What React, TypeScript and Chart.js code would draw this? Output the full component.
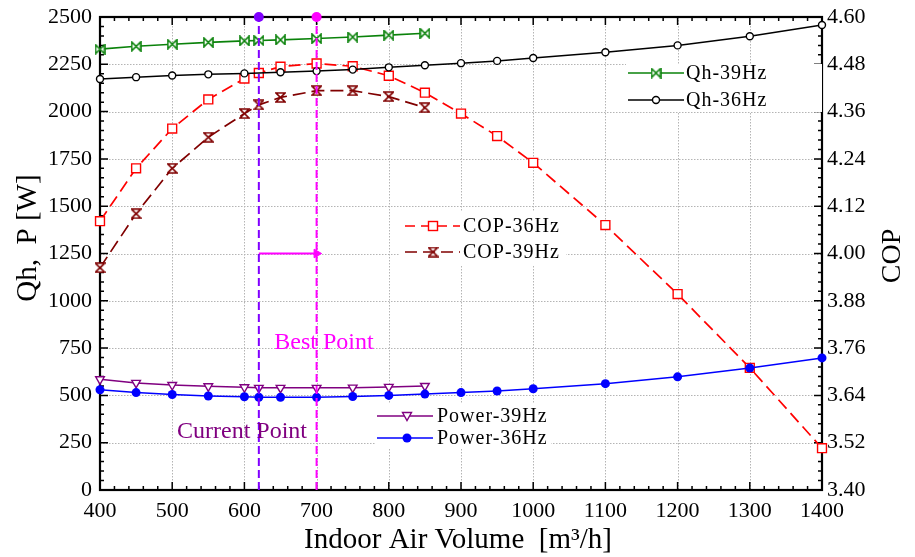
import { useEffect, useRef } from 'react';
import { Chart, registerables } from 'chart.js';
Chart.register(...registerables);

const FONT = "'Liberation Serif', 'Times New Roman', serif";

// ---- data ----
const xQh39 = [400, 450, 500, 550, 600, 620, 650, 700, 750, 800, 850];
const qh39 = [2330, 2345, 2356, 2366, 2374, 2376, 2379, 2386, 2394, 2404, 2414];

const xQh36 = [400, 450, 500, 550, 600, 650, 700, 750, 800, 850, 900, 950, 1000, 1100, 1200, 1300, 1400];
const qh36 = [2172, 2182, 2191, 2197, 2202, 2208, 2214, 2222, 2234, 2245, 2256, 2268, 2283, 2314, 2350, 2398, 2458];

const xCop36 = [400, 450, 500, 550, 600, 620, 650, 700, 750, 800, 850, 900, 950, 1000, 1100, 1200, 1300, 1400];
const cop36 = [4.082, 4.216, 4.317, 4.391, 4.444, 4.458, 4.474, 4.482, 4.475, 4.451, 4.408, 4.355, 4.298, 4.230, 4.072, 3.897, 3.710, 3.506];

const xCop39 = [400, 450, 500, 550, 600, 620, 650, 700, 750, 800, 850];
const cop39 = [3.964, 4.101, 4.216, 4.295, 4.355, 4.377, 4.396, 4.413, 4.413, 4.398, 4.370];

const xPow39 = [400, 450, 500, 550, 600, 620, 650, 700, 750, 800, 850];
const pow39 = [585, 566, 555, 548, 543, 540, 540, 540, 541, 545, 550];

const xPow36 = [400, 450, 500, 550, 600, 620, 650, 700, 750, 800, 850, 900, 950, 1000, 1100, 1200, 1300, 1400];
const pow36 = [530, 515, 505, 497, 493, 490, 490, 490, 494, 500, 507, 515, 523, 535, 562, 598, 645, 698];

const currentPoint = 620;
const bestPoint = 700;
const arrowY = 1250;

const xTickStep = 100;
const yTickStep = 250;
const copTickStep = 0.12;

const pts = (xs: number[], ys: number[]) => xs.map((x, i) => ({ x, y: ys[i] }));

function makeTie(color: string, vertical: boolean) {
  const c = document.createElement('canvas');
  c.width = 11;
  c.height = 11;
  const g = c.getContext('2d')!;
  g.strokeStyle = color;
  g.fillStyle = '#fff';
  g.lineWidth = 1.6;
  g.beginPath();
  if (!vertical) {
    g.moveTo(1, 1); g.lineTo(5.5, 5.5); g.lineTo(1, 10); g.closePath();
    g.moveTo(10, 1); g.lineTo(5.5, 5.5); g.lineTo(10, 10); g.closePath();
  } else {
    g.moveTo(1, 1); g.lineTo(10, 1); g.lineTo(5.5, 5.5); g.closePath();
    g.moveTo(1, 10); g.lineTo(10, 10); g.lineTo(5.5, 5.5); g.closePath();
  }
  g.fill();
  g.stroke();
  return c;
}

export default function App() {
  const ref = useRef<HTMLCanvasElement>(null);
  useEffect(() => {
    document.body.style.margin = '0';
    const GREEN = '#0a820a';
    const DRED = '#800000';
    const tieG = makeTie(GREEN, false);
    const tieR = makeTie(DRED, true);

    const drawMarker = (ctx: CanvasRenderingContext2D, kind: string, x: number, y: number, color: string) => {
      ctx.save();
      ctx.setLineDash([]);
      ctx.strokeStyle = color;
      ctx.lineWidth = 1.4;
      if (kind === 'tieG') ctx.drawImage(tieG, x - 5.5, y - 5.5);
      else if (kind === 'tieR') ctx.drawImage(tieR, x - 5.5, y - 5.5);
      else if (kind === 'rect') {
        ctx.fillStyle = '#fff';
        ctx.fillRect(x - 4.5, y - 4.5, 9, 9);
        ctx.strokeRect(x - 4.5, y - 4.5, 9, 9);
      } else if (kind === 'circleOpen') {
        ctx.fillStyle = '#fff';
        ctx.beginPath(); ctx.arc(x, y, 3.5, 0, Math.PI * 2); ctx.fill(); ctx.stroke();
      } else if (kind === 'circle') {
        ctx.fillStyle = color;
        ctx.beginPath(); ctx.arc(x, y, 4.5, 0, Math.PI * 2); ctx.fill();
      } else if (kind === 'tri') {
        ctx.fillStyle = '#fff';
        ctx.beginPath(); ctx.moveTo(x - 4.5, y - 3.5); ctx.lineTo(x + 4.5, y - 3.5); ctx.lineTo(x, y + 4.5); ctx.closePath(); ctx.fill(); ctx.stroke();
      }
      ctx.restore();
    };

    const legends = [
      { box: [626, 64, 196, 48], x0: 628, x1: 684, mx: 656, tx: 686, rows: [
        { y: 73, color: GREEN, dash: [] as number[], kind: 'tieG', label: 'Qh-39Hz' },
        { y: 100, color: '#000', dash: [], kind: 'circleOpen', label: 'Qh-36Hz' },
      ] },
      { box: [400, 212, 166, 54], x0: 405, x1: 460, mx: 433, tx: 463, rows: [
        { y: 226, color: '#ff0000', dash: [10, 6], kind: 'rect', label: 'COP-36Hz' },
        { y: 252, color: DRED, dash: [12, 6], kind: 'tieR', label: 'COP-39Hz' },
      ] },
      { box: [375, 403, 176, 45], x0: 377, x1: 433, mx: 407, tx: 437, rows: [
        { y: 416, color: '#800080', dash: [], kind: 'tri', label: 'Power-39Hz' },
        { y: 438, color: '#0000ff', dash: [], kind: 'circle', label: 'Power-36Hz' },
      ] },
    ];

    const decor = {
      id: 'decor',
      beforeDatasetsDraw(chart: any) {
        const { ctx, chartArea: { left, right, top, bottom }, scales: { x, y } } = chart;
        ctx.save();
        ctx.strokeStyle = '#b4b4b4';
        ctx.lineWidth = 1;
        ctx.setLineDash([1.5, 1.5]);
        x.ticks.forEach((t: any) => {
          if (t.value > x.min && t.value < x.max) {
            const p = Math.round(x.getPixelForValue(t.value)) + 0.5;
            ctx.beginPath(); ctx.moveTo(p, top); ctx.lineTo(p, bottom); ctx.stroke();
          }
        });
        y.ticks.forEach((t: any) => {
          if (t.value > y.min && t.value < y.max) {
            const p = Math.round(y.getPixelForValue(t.value)) + 0.5;
            ctx.beginPath(); ctx.moveTo(left, p); ctx.lineTo(right, p); ctx.stroke();
          }
        });
        ctx.setLineDash([]);
        ctx.strokeStyle = '#000';
        ctx.lineWidth = 1.5;
        for (let v = x.min; v <= x.max + 1e-6; v += 20) {
          const p = x.getPixelForValue(v);
          const major = Math.abs(v % 100) < 1e-6;
          const L = major ? 8 : 4;
          ctx.beginPath();
          ctx.moveTo(p, bottom); ctx.lineTo(p, bottom - L);
          ctx.moveTo(p, top); ctx.lineTo(p, top + L);
          ctx.stroke();
        }
        for (let v = y.min; v <= y.max + 1e-6; v += 50) {
          const p = y.getPixelForValue(v);
          const major = Math.abs(v % 250) < 1e-6;
          const L = major ? 8 : 4;
          ctx.beginPath();
          ctx.moveTo(left, p); ctx.lineTo(left + L, p);
          ctx.moveTo(right, p); ctx.lineTo(right - L, p);
          ctx.stroke();
        }
        ctx.lineWidth = 2.2;
        ctx.strokeRect(left, top, right - left, bottom - top);
        ctx.restore();
      },
      afterDatasetsDraw(chart: any) {
        const { ctx } = chart;
        ctx.save();
        legends.forEach((lg) => {
          ctx.fillStyle = '#fff';
          ctx.fillRect(lg.box[0], lg.box[1], lg.box[2], lg.box[3]);
          lg.rows.forEach((r) => {
            ctx.strokeStyle = r.color;
            ctx.lineWidth = 1.6;
            ctx.setLineDash(r.dash);
            ctx.beginPath(); ctx.moveTo(lg.x0, r.y); ctx.lineTo(lg.x1, r.y); ctx.stroke();
            ctx.setLineDash([]);
            drawMarker(ctx, r.kind, lg.mx, r.y, r.color);
            ctx.fillStyle = '#000';
            ctx.font = `20px ${FONT}`;
            (ctx as any).letterSpacing = '1px';
            ctx.textAlign = 'left';
            ctx.textBaseline = 'middle';
            ctx.fillText(r.label, lg.tx, r.y + 1);
            (ctx as any).letterSpacing = '0px';
          });
        });
        ctx.font = `24px ${FONT}`;
        ctx.textAlign = 'center';
        ctx.textBaseline = 'middle';
        ctx.fillStyle = '#ff00ff';
        ctx.fillText('Best Point', 324, 343);
        ctx.fillStyle = '#800080';
        ctx.fillText('Current Point', 242, 432);
        ctx.fillStyle = '#000';
        ctx.font = `29px ${FONT}`;
        ctx.fillText('Indoor Air Volume  [m³/h]', 458, 540);
        ctx.save();
        ctx.translate(28, 238);
        ctx.rotate(-Math.PI / 2);
        ctx.fillText('Qh,  P [W]', 0, 0);
        ctx.restore();
        ctx.save();
        ctx.font = `28px ${FONT}`;
        ctx.translate(893, 256);
        ctx.rotate(-Math.PI / 2);
        ctx.fillText('COP', 0, 0);
        ctx.restore();
        ctx.restore();
      },
    };

    const tickFont = { family: FONT, size: 22 };
    const chart = new Chart(ref.current!, {
      type: 'line',
      data: {
        datasets: [
          { label: 'Current', data: [{ x: currentPoint, y: 0 }, { x: currentPoint, y: 2500 }], yAxisID: 'y', borderColor: '#8000ff', backgroundColor: '#8000ff', borderWidth: 2, borderDash: [8, 4], pointRadius: [0, 5], pointBackgroundColor: '#8000ff', pointBorderWidth: 0, clip: false } as any,
          { label: 'Best', data: [{ x: bestPoint, y: 0 }, { x: bestPoint, y: 2500 }], yAxisID: 'y', borderColor: '#ff00ff', backgroundColor: '#ff00ff', borderWidth: 2, borderDash: [8, 4], pointRadius: [0, 5], pointBackgroundColor: '#ff00ff', pointBorderWidth: 0, clip: false } as any,
          { label: 'Arrow', data: [{ x: currentPoint, y: arrowY }, { x: bestPoint, y: arrowY }], yAxisID: 'y', borderColor: '#ff00ff', borderWidth: 2, pointRadius: [0, 5], pointStyle: 'triangle', rotation: 90, pointBackgroundColor: '#ff00ff', pointBorderColor: '#ff00ff', pointBorderWidth: 1 } as any,
          { label: 'Qh-36Hz', data: pts(xQh36, qh36), yAxisID: 'y', borderColor: '#000', borderWidth: 1.5, pointStyle: 'circle', pointRadius: 3.5, pointBackgroundColor: '#fff', pointBorderColor: '#000', pointBorderWidth: 1.4, clip: false } as any,
          { label: 'Qh-39Hz', data: pts(xQh39, qh39), yAxisID: 'y', borderColor: GREEN, borderWidth: 1.6, pointStyle: tieG, pointRadius: 5, clip: false } as any,
          { label: 'Power-36Hz', data: pts(xPow36, pow36), yAxisID: 'y', borderColor: '#0000ff', borderWidth: 1.5, pointStyle: 'circle', pointRadius: 4.5, pointBackgroundColor: '#0000ff', pointBorderColor: '#0000ff', pointBorderWidth: 0, clip: false } as any,
          { label: 'Power-39Hz', data: pts(xPow39, pow39), yAxisID: 'y', borderColor: '#800080', borderWidth: 1.5, pointStyle: 'triangle', rotation: 180, pointRadius: 5, pointBackgroundColor: '#fff', pointBorderColor: '#800080', pointBorderWidth: 1.4, clip: false } as any,
          { label: 'COP-39Hz', data: pts(xCop39, cop39), yAxisID: 'y1', borderColor: DRED, borderWidth: 1.7, borderDash: [13, 6], pointStyle: tieR, pointRadius: 5, clip: false } as any,
          { label: 'COP-36Hz', data: pts(xCop36, cop36), yAxisID: 'y1', borderColor: '#ff0000', borderWidth: 1.7, borderDash: [12, 6], pointStyle: 'rect', pointRadius: 6.3, pointBackgroundColor: '#fff', pointBorderColor: '#ff0000', pointBorderWidth: 1.4, clip: false } as any,
        ],
      },
      options: {
        animation: false,
        responsive: false,
        devicePixelRatio: 1,
        layout: { padding: { top: 17, left: 0, right: 0, bottom: 0 } },
        plugins: { legend: { display: false }, tooltip: { enabled: false } },
        elements: { line: { tension: 0 } },
        scales: {
          x: {
            type: 'linear', min: 400, max: 1400,
            ticks: { stepSize: xTickStep, font: tickFont, color: '#000', padding: 8, maxRotation: 0, callback: (v: any) => String(v) },
            grid: { display: false, drawTicks: false },
            border: { display: false },
            afterFit: (s: any) => { s.height = 67; },
          },
          y: {
            type: 'linear', position: 'left', min: 0, max: 2500,
            ticks: { stepSize: yTickStep, font: tickFont, color: '#000', padding: 8, callback: (v: any) => String(v) },
            grid: { display: false, drawTicks: false },
            border: { display: false },
            afterFit: (s: any) => { s.width = 100; s.paddingTop = 0; s.paddingBottom = 0; },
          },
          y1: {
            type: 'linear', position: 'right', min: 3.4, max: 4.6,
            ticks: { stepSize: copTickStep, font: tickFont, color: '#000', padding: 5, callback: (v: any) => Number(v).toFixed(2) },
            grid: { display: false, drawTicks: false },
            border: { display: false },
            afterFit: (s: any) => { s.width = 93; s.paddingTop = 0; s.paddingBottom = 0; },
          },
        },
      } as any,
      plugins: [decor],
    });
    return () => chart.destroy();
  }, []);
  return <canvas ref={ref} width={915} height={557} style={{ display: 'block' }} />;
}
